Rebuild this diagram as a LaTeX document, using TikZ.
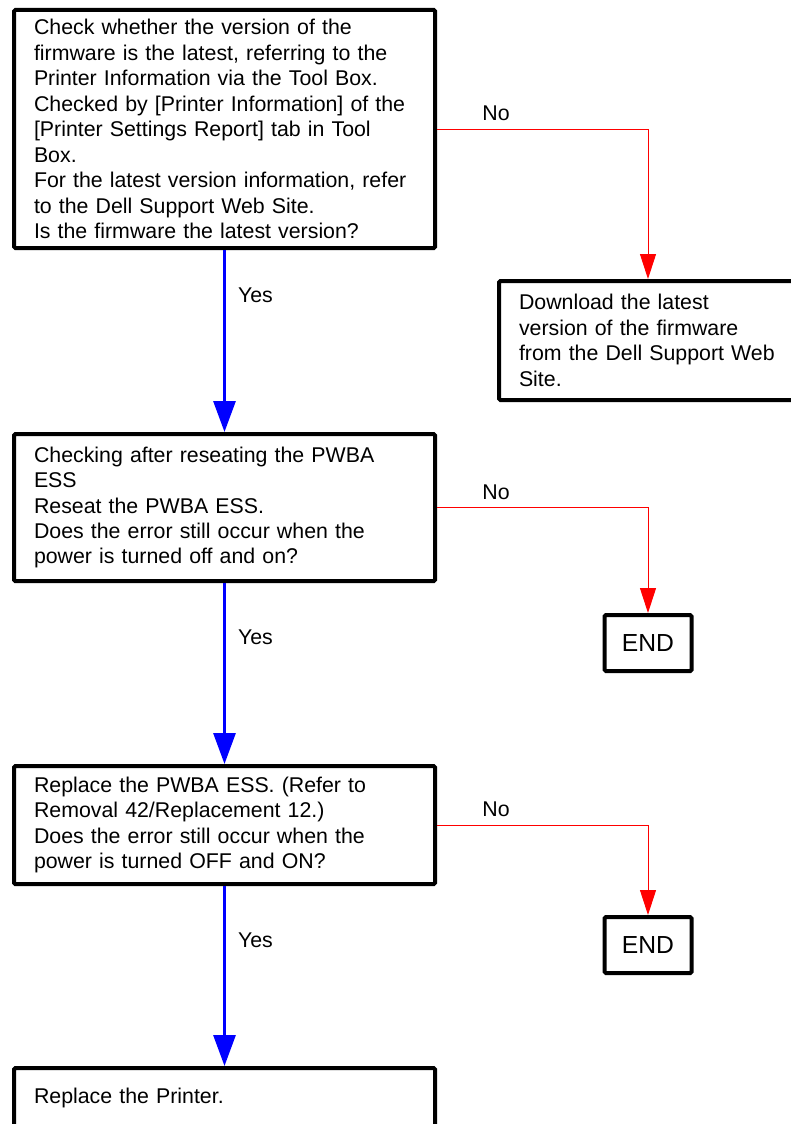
\documentclass[tikz,border=0pt]{standalone}
\usepackage{fontspec}
\setmainfont{Liberation Sans}
\usetikzlibrary{arrows.meta}

\definecolor{flowBlue}{HTML}{0000FF}
\definecolor{flowRed}{HTML}{FF0000}

\tikzset{
  stepbox/.style={draw, line width=3pt, rounded corners=1pt, anchor=north west,
    align=left, inner xsep=15pt, text width=285.75pt,
    font=\fontsize{16}{19.1}\selectfont},
  endbox/.style={draw, line width=3pt, rounded corners=1pt, anchor=north,
    minimum width=65.25pt, minimum height=42pt, inner sep=0pt,
    font=\fontsize{18.5}{22}\selectfont},
  yesline/.style={flowBlue, line width=2.25pt, -{Triangle[width=16.5pt,length=23.25pt]}},
  noline/.style={flowRed, line width=0.75pt, -{Triangle[width=12pt,length=18.75pt]}},
  yeslabel/.style={right, inner sep=0pt, xshift=9pt, text=black, font=\fontsize{16}{19.1}\selectfont},
  nolabel/.style={above, inner sep=0pt, yshift=5.5pt, text=black, font=\fontsize{16}{19.1}\selectfont}
}

\begin{document}
\begin{tikzpicture}[x=0.75pt,y=-0.75pt]
  \useasboundingbox (0,0) rectangle (790,1124);

  % left column
  \node[stepbox, minimum height=178.5pt] (chkfw) at (12,8) {Check whether the version of the\\
    firmware is the latest, referring to the\\
    Printer Information via the Tool Box.\\
    Checked by [Printer Information] of the\\
    {[}Printer Settings Report] tab in Tool\\
    Box.\\
    For the latest version information, refer\\
    to the Dell Support Web Site.\\
    Is the firmware the latest version?};
  \node[stepbox, minimum height=110.25pt] (reseat) at (12,432) {Checking after reseating the PWBA\\
    ESS\\
    Reseat the PWBA ESS.\\
    Does the error still occur when the\\
    power is turned off and on?};
  \node[stepbox, minimum height=88.5pt] (swapess) at (12,764) {Replace the PWBA ESS. (Refer to\\
    Removal 42/Replacement 12.)\\
    Does the error still occur when the\\
    power is turned OFF and ON?};
  \node[stepbox, minimum height=45pt] (swapprn) at (12,1066) {Replace the Printer.};

  % right column
  \node[endbox] (endA) at (648,613) {END};
  \node[endbox] (endB) at (648,915) {END};
  \node[stepbox, text width=260pt, minimum height=89.25pt] (dlfw) at (497,279) {Download the latest\\
    version of the firmware\\
    from the Dell Support Web\\
    Site.};

  % yes branches
  \draw[yesline] (chkfw.south) -- node[yeslabel, pos=0.25] {Yes} (reseat.north);
  \draw[yesline] (reseat.south) -- node[yeslabel, pos=0.30] {Yes} (swapess.north);
  \draw[yesline] (swapess.south) -- node[yeslabel, pos=0.30] {Yes} (swapprn.north);

  % no branches
  \draw[noline] (chkfw.east) -| node[nolabel, pos=0.14] {No} (dlfw.north -| endA.north);
  \draw[noline] (reseat.east) -| node[nolabel, pos=0.14] {No} (endA.north);
  \draw[noline] (swapess.east) -| node[nolabel, pos=0.14] {No} (endB.north);
\end{tikzpicture}
\end{document}
